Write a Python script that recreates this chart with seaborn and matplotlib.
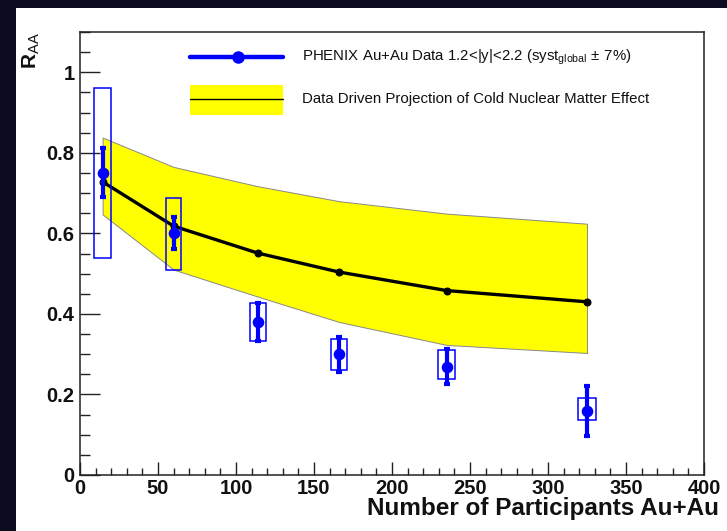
import numpy as np
import pandas as pd
import matplotlib
matplotlib.use("Agg")
import matplotlib.pyplot as plt
from matplotlib.patches import Rectangle
from matplotlib.ticker import MultipleLocator
import seaborn as sns

# ---------------- data ----------------
npart = [14.5, 60, 114, 166, 235, 325]
raa = [0.750, 0.601, 0.380, 0.300, 0.269, 0.159]
stat_hi = [0.813, 0.640, 0.427, 0.342, 0.313, 0.221]
stat_lo = [0.691, 0.561, 0.332, 0.256, 0.226, 0.097]
syst_hi = [0.960, 0.687, 0.427, 0.338, 0.310, 0.191]
syst_lo = [0.539, 0.510, 0.332, 0.261, 0.238, 0.137]
syst_halfwidth = [5.5, 5.0, 5.0, 5.0, 5.2, 5.5]

cnm_central = [0.728, 0.618, 0.551, 0.504, 0.458, 0.430]
cnm_upper = [0.838, 0.765, 0.717, 0.680, 0.649, 0.624]
cnm_lower = [0.647, 0.510, 0.443, 0.380, 0.323, 0.303]

xticks = [0, 50, 100, 150, 200, 250, 300, 350, 400]
yticks = [0, 0.2, 0.4, 0.6, 0.8, 1]
ytick_labels = ["0", "0.2", "0.4", "0.6", "0.8", "1"]

legend_data = "PHENIX Au+Au Data 1.2<|y|<2.2 (syst$_{\\mathrm{global}}$$\\,\\pm\\,$7%)"
legend_cnm = "Data Driven Projection of Cold Nuclear Matter Effect"
xlabel = "Number of Participants Au+Au"
ylabel = "R$_{\\mathrm{AA}}$"

df = pd.DataFrame({"npart": npart, "raa": raa})
dfc = pd.DataFrame({"npart": npart, "cnm": cnm_central})

# ---------------- style ----------------
sns.set_style("ticks")
plt.rcParams["font.family"] = ["Liberation Sans", "DejaVu Sans"]
plt.rcParams["mathtext.fontset"] = "custom"
plt.rcParams["mathtext.rm"] = "Liberation Sans"
plt.rcParams["mathtext.it"] = "Liberation Sans:italic"
plt.rcParams["mathtext.bf"] = "Liberation Sans:bold"

W, H = 727, 531
fig = plt.figure(figsize=(W / 100, H / 100), dpi=100)
fig.patch.set_facecolor("#0b0c20")
fig.patches.append(Rectangle((16 / W, 0), 1 - 16 / W, 1 - 8 / H, transform=fig.transFigure,
                             facecolor="white", edgecolor="none", zorder=-5))

ax = fig.add_axes([80 / W, (H - 475) / H, 624 / W, 443 / H])
ax.set_zorder(1)
ax.set_facecolor("white")

# band
ax.fill_between(npart, cnm_lower, cnm_upper, facecolor="#ffff00", edgecolor="#888888",
                linewidth=0.7, zorder=1)
# central line
sns.lineplot(data=dfc, x="npart", y="cnm", color="black", linewidth=2.4, marker="o",
             markersize=5, markeredgecolor="black", ax=ax, zorder=2, legend=False)
# syst boxes
for xi, lo, hi, hw in zip(npart, syst_lo, syst_hi, syst_halfwidth):
    ax.add_patch(Rectangle((xi - hw, lo), 2 * hw, hi - lo, facecolor="none",
                           edgecolor="#0000ff", linewidth=1.1, zorder=3))
# stat error bars
ax.errorbar(npart, raa, yerr=[np.array(raa) - np.array(stat_lo), np.array(stat_hi) - np.array(raa)],
            fmt="none", ecolor="#0000ff", elinewidth=3, capsize=2.2, capthick=3, zorder=4)
sns.scatterplot(data=df, x="npart", y="raa", color="#0000ff", s=70, edgecolor="#0000ff",
                linewidth=0, ax=ax, zorder=5, legend=False)

# legend drawn in axes coordinates
ax.plot([0.1763, 0.3253], [0.9436, 0.9436], transform=ax.transAxes, color="#0000ff", lw=3.2,
        clip_on=False, zorder=6)
ax.plot([0.2532], [0.9436], transform=ax.transAxes, marker="o", color="#0000ff", ms=8,
        clip_on=False, zorder=6)
ax.add_patch(Rectangle((0.1763, 0.8126), 0.149, 0.0678, transform=ax.transAxes,
                       facecolor="#ffff00", edgecolor="none", zorder=6))
ax.plot([0.1763, 0.3253], [0.8488, 0.8488], transform=ax.transAxes, color="black", lw=1.0, zorder=7)
ax.text(0.3558, 0.9436, legend_data, transform=ax.transAxes, fontsize=10.8, va="center", ha="left",
        color="#111111")
ax.text(0.3558, 0.8488, legend_cnm, transform=ax.transAxes, fontsize=10.8, va="center", ha="left",
        color="#111111")

# axes
ax.set_xlim(0, 400)
ax.set_ylim(0, 1.10)
ax.set_xticks(xticks)
ax.set_xticklabels([str(t) for t in xticks])
ax.set_yticks(yticks)
ax.set_yticklabels(ytick_labels)
ax.xaxis.set_minor_locator(MultipleLocator(10))
ax.yaxis.set_minor_locator(MultipleLocator(0.05))
ax.tick_params(axis="both", which="both", direction="in", top=False, right=False,
               color="#222222", width=1.0)
ax.tick_params(axis="y", which="major", length=14.4, pad=4)
ax.tick_params(axis="y", which="minor", length=7.5)
ax.tick_params(axis="x", which="major", length=9.6, pad=3)
ax.tick_params(axis="x", which="minor", length=4.8)
for lab in ax.get_xticklabels() + ax.get_yticklabels():
    lab.set_fontsize(14.5)
    lab.set_fontweight("bold")
    lab.set_color("#111111")
for sp in ax.spines.values():
    sp.set_visible(True)
    sp.set_color("#222222")
    sp.set_linewidth(1.1)

ax.set_xlabel("")
ax.set_ylabel("")
fig.text(719 / W, 1 - 509 / H, xlabel, ha="right", va="center", fontsize=17.5, fontweight="bold",
         color="#111111")
ax.text(-0.0785, 1.0, ylabel, transform=ax.transAxes, rotation=90, ha="center", va="top",
        fontsize=15, fontweight="bold", color="#111111")

fig.savefig("out.png", dpi=100, facecolor=fig.get_facecolor())
